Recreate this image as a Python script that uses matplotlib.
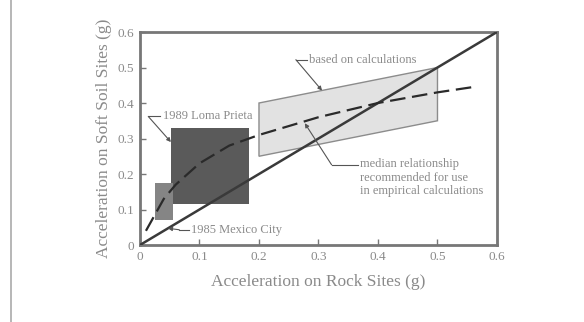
import numpy as np
import matplotlib
matplotlib.use("Agg")
import matplotlib.pyplot as plt
from matplotlib.patches import Polygon, Rectangle
from matplotlib.lines import Line2D

# 数据
rock_curve = [0.01, 0.02, 0.04, 0.06, 0.1, 0.15, 0.2, 0.3, 0.4, 0.5, 0.56]
soil_curve = [0.04, 0.07, 0.13, 0.17, 0.23, 0.28, 0.31, 0.36, 0.40, 0.43, 0.445]

# 1985 Mexico City 区域 (x0, x1, y0, y1)
mexico_box = [0.025, 0.055, 0.07, 0.175]
# 1989 Loma Prieta 区域
loma_box = [0.052, 0.183, 0.115, 0.33]
# 计算结果区域（平行四边形）
calc_x = [0.2, 0.2, 0.5, 0.5]
calc_y = [0.25, 0.40, 0.50, 0.35]

ticks = [0, 0.1, 0.2, 0.3, 0.4, 0.5, 0.6]
tick_labels = ["0", "0.1", "0.2", "0.3", "0.4", "0.5", "0.6"]

plt.rcParams['font.family'] = ['Liberation Serif', 'DejaVu Serif']
gray_txt = '#8a8a8a'
ann_size = 9

fig = plt.figure(figsize=(5.84, 3.22), dpi=100)
ax = fig.add_axes([0.2397, 0.2391, 0.6113, 0.6615])

# 区域
ax.add_patch(Polygon(list(zip(calc_x, calc_y)), closed=True, facecolor='#e2e2e2',
                     edgecolor='#8c8c8c', lw=1.0, zorder=1))
ax.add_patch(Rectangle((loma_box[0], loma_box[2]), loma_box[1] - loma_box[0],
                       loma_box[3] - loma_box[2], facecolor='#5a5a5a', edgecolor='none', zorder=2))
ax.add_patch(Rectangle((mexico_box[0], mexico_box[2]), mexico_box[1] - mexico_box[0],
                       mexico_box[3] - mexico_box[2], facecolor='#858585', edgecolor='none', zorder=2))

# 1:1 线和中值曲线
ax.plot([0, 0.6], [0, 0.6], color='#3a3a3a', lw=1.8, zorder=3)
ax.plot(rock_curve, soil_curve, color='#2a2a2a', lw=1.6, ls=(0, (7, 3)), zorder=4)

# 标注
def leader(text, tx, ty, kx, target):
    ax.text(tx, ty, text, fontsize=ann_size, color=gray_txt, va='center', ha='left', zorder=6)
    ax.plot([kx, tx - 0.004], [ty, ty], color='#555555', lw=0.8, zorder=5)
    ax.annotate('', xy=target, xytext=(kx, ty),
                arrowprops=dict(arrowstyle='-|>', color='#555555', lw=0.8,
                                mutation_scale=6, shrinkA=0, shrinkB=0), zorder=5)

leader('based on calculations', 0.284, 0.522, 0.262, (0.306, 0.435))
leader('1989 Loma Prieta', 0.038, 0.362, 0.014, (0.052, 0.29))
leader('1985 Mexico City', 0.086, 0.043, 0.066, (0.047, 0.047))

ax.text(0.37, 0.228, 'median relationship', fontsize=ann_size, color=gray_txt, va='center', zorder=6)
ax.text(0.37, 0.190, 'recommended for use', fontsize=ann_size, color=gray_txt, va='center', zorder=6)
ax.text(0.37, 0.152, 'in empirical calculations', fontsize=ann_size, color=gray_txt, va='center', zorder=6)
ax.plot([0.322, 0.366], [0.226, 0.226], color='#555555', lw=0.8, zorder=5)
ax.annotate('', xy=(0.277, 0.343), xytext=(0.322, 0.226),
            arrowprops=dict(arrowstyle='-|>', color='#555555', lw=0.8,
                            mutation_scale=6, shrinkA=0, shrinkB=0), zorder=5)

ax.set_xlim(0, 0.6)
ax.set_ylim(0, 0.6)
ax.set_xticks(ticks)
ax.set_xticklabels(tick_labels)
ax.set_yticks(ticks)
ax.set_yticklabels(tick_labels)
ax.tick_params(direction='in', length=4, width=1, color='#777777',
               labelsize=9.5, labelcolor=gray_txt, pad=4)
for s in ax.spines.values():
    s.set_color('#777777')
    s.set_linewidth(2)

ax.set_xlabel('Acceleration on Rock Sites (g)', fontsize=12.5, color=gray_txt, labelpad=8)
ax.set_ylabel('Acceleration on Soft Soil Sites (g)', fontsize=12.5, color=gray_txt, labelpad=4)

# 左侧竖线
fig.add_artist(Line2D([11 / 584, 11 / 584], [0, 1], color='#aaaaaa', lw=1.2))

fig.savefig('out.png', dpi=100)
